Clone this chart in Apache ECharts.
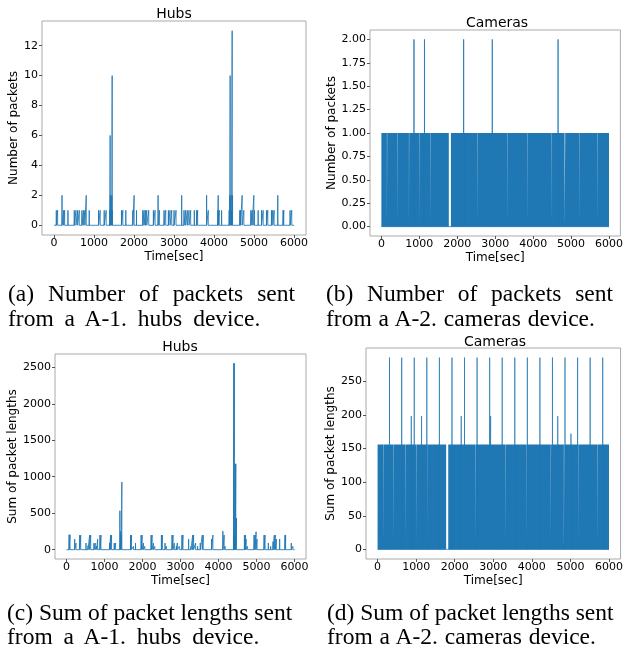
<!DOCTYPE html>
<html>
<head>
<meta charset="utf-8">
<script src="https://cdn.jsdelivr.net/npm/echarts@6/dist/echarts.min.js"></script>
<style>
  body { margin: 0; background: #fff; }
  #chart { position: absolute; left: 0; top: 0; width: 626px; height: 651px; }
  .cap { position: absolute; font-family: "Liberation Serif", serif; font-size: 23.5px; line-height: 25px; color: #000; white-space: nowrap; }
  .just { text-align: justify; text-align-last: justify; white-space: normal; }
</style>
</head>
<body>
<div id="chart"></div>
<div class="cap just" style="left: 8px; top: 281px; width: 287px">(a) Number of packets sent</div>
<div class="cap" style="left: 8px; top: 306px; word-spacing: 5px">from a A-1. hubs device.</div>
<div class="cap just" style="left: 326px; top: 281px; width: 287px">(b) Number of packets sent</div>
<div class="cap" style="left: 326px; top: 306px; word-spacing: 1px">from a A-2. cameras device.</div>
<div class="cap" style="left: 7px; top: 600px">(c) Sum of packet lengths sent</div>
<div class="cap" style="left: 7px; top: 624px; word-spacing: 5px">from a A-1. hubs device.</div>
<div class="cap" style="left: 327px; top: 600px">(d) Sum of packet lengths sent</div>
<div class="cap" style="left: 327px; top: 624px; word-spacing: 1px">from a A-2. cameras device.</div>
<script>
// time range of the capture
const timeStart = 0
const timeEnd = 6000
const timeTicks = [0, 1000, 2000, 3000, 4000, 5000, 6000]

// (a) hubs: [time, number of packets]
const hubsCountSpikes = [
  [58,1],[91,1],[200,2],[241,1],[266,1],[349,1],[507,1],[549,1],[590,1],[632,1],[698,1],[740,1],[773,1],[806,2],[881,1],
  [1114,1],[1155,1],[1255,1],[1305,1],[1395,1],[1404,6],[1410,2],[1430,1],[1446,2],[1454,10],[1462,1],
  [1687,1],[1720,1],[1795,1],[1970,1],[2003,2],[2062,1],[2219,1],[2253,1],[2286,1],[2319,1],[2369,1],
  [2485,1],[2527,1],[2602,2],[2635,1],[2751,1],[2793,1],[2860,1],[2901,1],[2943,1],[3001,1],[3051,1],
  [3192,2],[3250,1],[3292,1],[3333,1],[3375,1],[3417,1],[3508,1],[3566,1],[3591,1],[3815,2],[3857,1],
  [4097,1],[4105,2],[4131,1],[4190,1],[4380,1],[4395,2],[4404,10],[4425,2],[4440,1],[4454,13],[4464,2],
  [4646,1],[4663,1],[4703,2],[4746,1],[4921,1],[4954,1],[4996,2],[5010,1],[5104,1],[5187,1],[5229,1],
  [5312,1],[5345,1],[5436,1],[5470,1],[5503,1],[5594,2],[5727,1],[5744,1],[5902,1],[5944,1]
]
const hubsCountTicks = [0, 2, 4, 6, 8, 10, 12]

// (c) hubs: [time, sum of packet lengths]
const hubsLengthSpikes = [
  [70,205],[96,205],[218,146],[253,91],[279,25],[349,200],[376,200],[515,91],[568,55],[611,200],[638,200],
  [725,90],[760,90],[795,50],[821,146],[882,200],[908,200],[1135,91],[1162,200],[1188,200],[1258,91],[1293,91],
  [1406,534],[1424,250],[1441,200],[1458,926],[1686,200],[1712,200],[1764,46],[1817,91],
  [1965,200],[1991,200],[2026,91],[2061,46],[2227,200],[2253,200],[2288,91],[2323,46],
  [2498,200],[2524,200],[2594,91],[2629,46],[2777,200],[2803,200],[2838,91],[2891,46],[2917,91],[2969,46],
  [3039,200],[3065,200],[3214,146],[3275,46],[3319,200],[3345,200],[3397,91],[3450,46],[3520,91],
  [3572,200],[3598,200],[3817,146],[3852,200],[4114,255],[4148,200],[4175,46],
  [4393,200],[4404,2555],[4412,2555],[4428,200],[4440,1177],[4454,1177],[4472,433],
  [4681,200],[4707,200],[4725,146],[4760,46],[4934,200],[4961,200],[4987,246],[5013,146],
  [5197,200],[5223,200],[5310,91],[5371,46],[5432,110],[5467,200],[5493,200],[5520,146],[5607,146],
  [5747,200],[5764,200],[5913,91],[5956,46]
]
const hubsLengthTicks = [0, 500, 1000, 1500, 2000, 2500]

// cameras: stretches where the traffic is continuous [start, end]
const cameraBlocks = [
  [0,146],[153,416],[423,726],[733,1001],[1008,1301],[1308,1778],[1832,2531],[2538,3321],
  [3328,3856],[3863,4491],[4498,4830],[4846,5216],[5223,5696],[5703,6000]
]
// (b) cameras number of packets
const cameraCountLevel = 1
const cameraCountSpikes = [[859,2],[1136,2],[2168,2],[2923,2],[4657,2]]
const cameraCountTicks = [0, 0.25, 0.5, 0.75, 1, 1.25, 1.5, 1.75, 2]

// (d) cameras sum of packet lengths
const cameraLengthLevel = 156
const cameraLengthSpikes = [
  [309,285],[626,285],[874,198],[951,285],[1140,198],[1277,285],[1603,285],[1929,285],[2169,198],[2254,285],
  [2580,285],[2906,285],[2931,198],[3231,285],[3557,285],[3883,285],[4209,285],[4534,285],[4671,198],
  [4860,285],[5014,172],[5186,285],[5511,285],[5837,285]
]
const cameraLengthTicks = [0, 50, 100, 150, 200, 250]

const blue = '#1f77b4'
const tickFont = { color: '#000', fontSize: 11, fontFamily: 'DejaVu Sans' }
const nameFont = { color: '#000', fontSize: 12, fontFamily: 'DejaVu Sans' }

function spikeLine(spikes) {
  const pts = [[timeStart, 0]]
  spikes.forEach(s => { pts.push([s[0], 0], [s[0], s[1]], [s[0], 0]) })
  pts.push([timeEnd, 0])
  return pts
}

function blockLine(blocks, level) {
  const pts = []
  blocks.forEach(b => { pts.push([b[0], 0], [b[0], level], [b[1], level], [b[1], 0]) })
  return pts
}

// panel boxes in px
const boxes = [
  { left: 42, top: 21, width: 264, height: 214 },
  { left: 370, top: 30, width: 254, height: 206 },
  { left: 55, top: 354, width: 251, height: 205 },
  { left: 366, top: 348, width: 258, height: 211 }
]

function xAxisFor(i) {
  return {
    type: 'value', gridIndex: i, min: -300, max: 6300,
    name: 'Time[sec]', nameLocation: 'middle', nameGap: 16, nameTextStyle: nameFont,
    axisLine: { show: false, onZero: false },
    axisTick: { show: true, length: 3, lineStyle: { color: '#555' }, customValues: timeTicks },
    axisLabel: Object.assign({ margin: 3, customValues: timeTicks, formatter: v => String(v) }, tickFont),
    splitLine: { show: false }
  }
}

function yAxisFor(i, min, max, ticks, name, gap, fmt) {
  return {
    type: 'value', gridIndex: i, min: min, max: max,
    name: name, nameLocation: 'middle', nameGap: gap, nameTextStyle: nameFont,
    axisLine: { show: false, onZero: false },
    axisTick: { show: true, length: 3, lineStyle: { color: '#555' }, customValues: ticks },
    axisLabel: Object.assign({ margin: 4, customValues: ticks, formatter: fmt }, tickFont),
    splitLine: { show: false }
  }
}

const titles = [['Hubs', 174, 14], ['Cameras', 497, 23], ['Hubs', 180, 347], ['Cameras', 495, 342]]

const option = {
  animation: false,
  grid: boxes.map(b => Object.assign({ show: true, borderColor: '#aaa', borderWidth: 1, containLabel: false }, b)),
  xAxis: [0, 1, 2, 3].map(xAxisFor),
  yAxis: [
    yAxisFor(0, -0.65, 13.65, hubsCountTicks, 'Number of packets', 21, v => String(v)),
    yAxisFor(1, -0.1, 2.1, cameraCountTicks, 'Number of packets', 31, v => v.toFixed(2)),
    yAxisFor(2, -127.75, 2682.75, hubsLengthTicks, 'Sum of packet lengths', 33, v => String(v)),
    yAxisFor(3, -14.25, 299.25, cameraLengthTicks, 'Sum of packet lengths', 26, v => String(v))
  ],
  graphic: titles.map(t => ({
    type: 'text', x: t[1], y: t[2],
    style: { text: t[0], align: 'center', verticalAlign: 'middle', fill: '#000', font: '14px "DejaVu Sans"' }
  })),
  series: [
    {
      type: 'line', xAxisIndex: 0, yAxisIndex: 0, data: spikeLine(hubsCountSpikes),
      showSymbol: false, lineStyle: { color: blue, width: 1, opacity: 0.85 }
    },
    {
      type: 'line', xAxisIndex: 1, yAxisIndex: 1, data: blockLine(cameraBlocks, cameraCountLevel),
      showSymbol: false, lineStyle: { width: 0 }, areaStyle: { color: blue, opacity: 1 }
    },
    {
      type: 'line', xAxisIndex: 1, yAxisIndex: 1, data: spikeLine(cameraCountSpikes),
      showSymbol: false, lineStyle: { color: blue, width: 1, opacity: 0.8 }
    },
    {
      type: 'line', xAxisIndex: 2, yAxisIndex: 2, data: spikeLine(hubsLengthSpikes),
      showSymbol: false, lineStyle: { color: blue, width: 1, opacity: 0.85 }
    },
    {
      type: 'line', xAxisIndex: 3, yAxisIndex: 3, data: blockLine(cameraBlocks, cameraLengthLevel),
      showSymbol: false, lineStyle: { width: 0 }, areaStyle: { color: blue, opacity: 1 }
    },
    {
      type: 'line', xAxisIndex: 3, yAxisIndex: 3, data: spikeLine(cameraLengthSpikes),
      showSymbol: false, lineStyle: { color: blue, width: 1, opacity: 0.7 }
    }
  ]
}

const chart = echarts.init(document.getElementById('chart'))
chart.setOption(option)
</script>
</body>
</html>
